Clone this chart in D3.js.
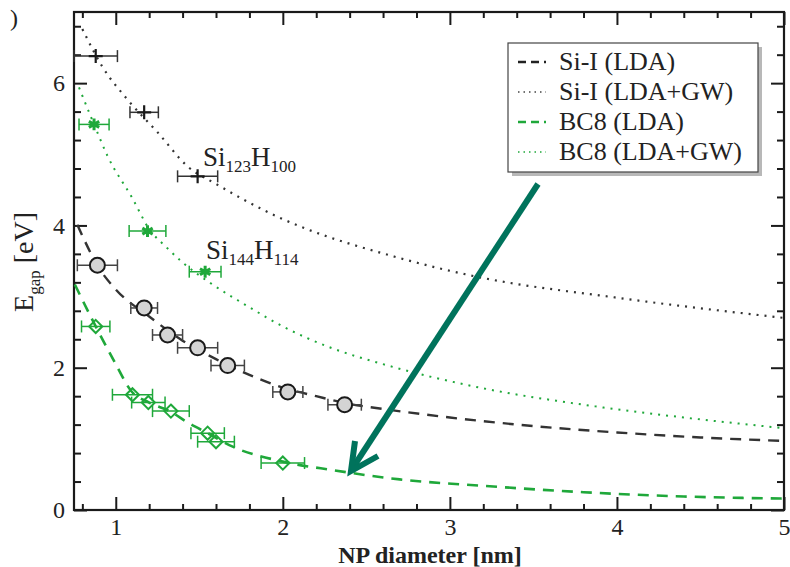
<!DOCTYPE html>
<html>
<head>
<meta charset="utf-8">
<script src="https://cdn.jsdelivr.net/npm/d3@7"></script>
<style>
  body { margin: 0; background: #fff; }
  svg text { font-family: "Liberation Serif", "DejaVu Serif", serif; fill: #222; }
</style>
</head>
<body>
<div id="chart"></div>
<script>
// data
var siLdaPts = [[0.89, 3.44, 0.12], [1.17, 2.84, 0.08], [1.31, 2.46, 0.09], [1.49, 2.28, 0.12],
                [1.67, 2.03, 0.10], [2.03, 1.66, 0.09], [2.37, 1.48, 0.10]];
var siGwPts = [[0.88, 6.38, 0.13], [1.17, 5.59, 0.085], [1.49, 4.69, 0.12]];
var bcLdaPts = [[0.88, 2.58, 0.085], [1.10, 1.62, 0.12], [1.195, 1.51, 0.1], [1.33, 1.39, 0.11],
                [1.55, 1.08, 0.1], [1.60, 0.96, 0.11], [2.0, 0.66, 0.13]];
var bcGwPts = [[0.87, 5.42, 0.09], [1.19, 3.92, 0.11], [1.535, 3.35, 0.095]];

var siLdaFit = [[0.77, 4.01], [0.9, 3.40], [1.0, 3.10], [1.2, 2.72], [1.4, 2.38], [1.6, 2.12],
                [1.8, 1.90], [2.0, 1.72], [2.2, 1.60], [2.4, 1.49], [2.6, 1.42], [3.0, 1.30],
                [3.5, 1.18], [4.0, 1.09], [4.5, 1.02], [5.0, 0.97]];
var siGwFit = [[0.80, 6.76], [0.92, 6.23], [1.07, 5.77], [1.25, 5.31], [1.43, 4.83], [1.61, 4.57],
               [1.76, 4.37], [1.98, 4.11], [2.1, 3.99], [2.67, 3.56], [3.18, 3.27], [3.98, 2.99], [5.0, 2.70]];
var bcLdaFit = [[0.755, 3.17], [0.88, 2.58], [1.0, 2.05], [1.09, 1.68], [1.2, 1.51], [1.33, 1.38],
                [1.43, 1.23], [1.55, 1.08], [1.7, 0.89], [2.0, 0.68], [2.3, 0.56], [2.7, 0.43],
                [3.2, 0.34], [3.8, 0.25], [4.4, 0.19], [5.0, 0.16]];
var bcGwFit = [[0.78, 5.94], [0.87, 5.42], [0.95, 4.98], [1.1, 4.38], [1.2, 3.95], [1.3, 3.70],
               [1.4, 3.48], [1.56, 3.20], [1.8, 2.85], [2.0, 2.58], [2.3, 2.27], [2.6, 2.05],
               [3.2, 1.71], [3.8, 1.48], [4.4, 1.30], [5.0, 1.15]];

var xMajor = [1, 2, 3, 4, 5];
var yMajor = [0, 2, 4, 6];
var legendNames = ["Si-I (LDA)", "Si-I (LDA+GW)", "BC8 (LDA)", "BC8 (LDA+GW)"];

var width = 790, height = 567;
var black = "#1a1a1a", green = "#1fa83a", teal = "#00735c";

var svg = d3.select("#chart").append("svg")
    .attr("width", width)
    .attr("height", height);

// plot frame (note: "top" is a reserved window name, so use other names)
var plotL = 74, plotR = 784, plotT = 12, plotB = 510;

var xScale = d3.scaleLinear().domain([0.75, 5]).range([plotL, plotR]);
var yScale = d3.scaleLinear().domain([0, 7]).range([plotB, plotT]);

var xMinor = d3.range(0.8, 5.01, 0.2).filter(function(v){ return Math.abs(v - Math.round(v)) > 0.01; });
var yMinor = d3.range(0.4, 7, 0.4).filter(function(v){ return Math.abs(v / 2 - Math.round(v / 2)) > 0.01; });

// ticks point inward, mirrored on all four sides
function addAxis(axisFn, scale, values, size, transform, labels){
    var g = svg.append("g")
        .attr("transform", transform)
        .call(axisFn(scale).tickValues(values).tickSize(size).tickPadding(8)
            .tickFormat(labels ? d3.format("d") : ""));
    g.select(".domain").remove();
    g.selectAll(".tick line").attr("stroke", black).attr("stroke-width", 2);
    g.selectAll(".tick text").attr("font-size", 24).attr("fill", "#222")
        .style("font-family", "Liberation Serif, serif");
    return g;
}
addAxis(d3.axisBottom, xScale, xMinor, -6, "translate(0," + plotB + ")", false);
addAxis(d3.axisTop, xScale, xMinor, -6, "translate(0," + plotT + ")", false);
addAxis(d3.axisBottom, xScale, xMajor, -13, "translate(0," + plotB + ")", true);
addAxis(d3.axisTop, xScale, xMajor, -13, "translate(0," + plotT + ")", false);
addAxis(d3.axisLeft, yScale, yMinor, -7, "translate(" + plotL + ",0)", false);
addAxis(d3.axisRight, yScale, yMinor, -7, "translate(" + plotR + ",0)", false);
addAxis(d3.axisLeft, yScale, yMajor, -13, "translate(" + plotL + ",0)", true).selectAll("text").attr("x", -9);
addAxis(d3.axisRight, yScale, yMajor, -13, "translate(" + plotR + ",0)", false);

svg.append("rect")
    .attr("x", plotL).attr("y", plotT)
    .attr("width", plotR - plotL).attr("height", plotB - plotT)
    .attr("fill", "none").attr("stroke", black).attr("stroke-width", 2.2);

// fitted curves
var line = d3.line()
    .x(function(d){ return xScale(d[0]); })
    .y(function(d){ return yScale(d[1]); })
    .curve(d3.curveMonotoneX);

var plot = svg.append("g");
plot.append("path").datum(siGwFit).attr("d", line)
    .attr("fill", "none").attr("stroke", "#333").attr("stroke-width", 2.2).attr("stroke-dasharray", "2,6");
plot.append("path").datum(bcGwFit).attr("d", line)
    .attr("fill", "none").attr("stroke", green).attr("stroke-width", 2).attr("stroke-dasharray", "2,6");
plot.append("path").datum(siLdaFit).attr("d", line)
    .attr("fill", "none").attr("stroke", "#333").attr("stroke-width", 2.4).attr("stroke-dasharray", "11,8");
plot.append("path").datum(bcLdaFit).attr("d", line)
    .attr("fill", "none").attr("stroke", green).attr("stroke-width", 2.6).attr("stroke-dasharray", "11,8");

// error bars
function errBars(data, color){
    var g = plot.append("g").attr("stroke", color).attr("stroke-width", 1.5);
    g.selectAll("line.bar").data(data).enter().append("line")
        .attr("x1", function(d){ return xScale(d[0] - d[2]); })
        .attr("x2", function(d){ return xScale(d[0] + d[2]); })
        .attr("y1", function(d){ return yScale(d[1]); })
        .attr("y2", function(d){ return yScale(d[1]); });
    [-1, 1].forEach(function(s){
        g.selectAll("line.cap" + s).data(data).enter().append("line")
            .attr("x1", function(d){ return xScale(d[0] + s * d[2]); })
            .attr("x2", function(d){ return xScale(d[0] + s * d[2]); })
            .attr("y1", function(d){ return yScale(d[1]) - 6; })
            .attr("y2", function(d){ return yScale(d[1]) + 6; });
    });
}
errBars(siGwPts, "#333");
errBars(bcGwPts, green);
errBars(siLdaPts, "#444");
errBars(bcLdaPts, green);

// markers
plot.selectAll("circle.si").data(siLdaPts).enter().append("circle")
    .attr("cx", function(d){ return xScale(d[0]); })
    .attr("cy", function(d){ return yScale(d[1]); })
    .attr("r", 7.5)
    .attr("fill", "#d4d4d4").attr("stroke", black).attr("stroke-width", 2);

plot.selectAll("path.dia").data(bcLdaPts).enter().append("path")
    .attr("d", d3.symbol().type(d3.symbolDiamond2).size(110))
    .attr("transform", function(d){ return "translate(" + xScale(d[0]) + "," + yScale(d[1]) + ")"; })
    .attr("fill", "none").attr("stroke", green).attr("stroke-width", 2);

// thin plus markers
plot.selectAll("path.plus").data(siGwPts).enter().append("path")
    .attr("d", "M0,-7V7M-7,0H7")
    .attr("transform", function(d){ return "translate(" + xScale(d[0]) + "," + yScale(d[1]) + ")"; })
    .attr("fill", "none").attr("stroke", black).attr("stroke-width", 2.2);

plot.selectAll("path.star").data(bcGwPts).enter().append("path")
    .attr("d", d3.symbol().type(d3.symbolAsterisk).size(100))
    .attr("transform", function(d){ return "translate(" + xScale(d[0]) + "," + yScale(d[1]) + ")"; })
    .attr("fill", "none").attr("stroke", green).attr("stroke-width", 3);

// formula labels
function formula(x, y, a, b){
    var t = svg.append("text").attr("x", x).attr("y", y).attr("font-size", 27).attr("fill", "#333");
    t.append("tspan").text("Si");
    t.append("tspan").attr("dy", 6).attr("font-size", 17).text(a);
    t.append("tspan").attr("dy", -6).text("H");
    t.append("tspan").attr("dy", 6).attr("font-size", 17).text(b);
}
formula(203, 166, "123", "100");
formula(206, 259, "144", "114");

// legend
var lg = svg.append("g");
lg.append("rect").attr("x", 512).attr("y", 47).attr("width", 250).attr("height", 129)
    .attr("fill", "#888").attr("opacity", 0.6);
lg.append("rect").attr("x", 508).attr("y", 43).attr("width", 250).attr("height", 129)
    .attr("fill", "#fff").attr("stroke", "#444").attr("stroke-width", 1.2);
var lgStyles = [["#222", "8,5", 2.4], ["#444", "1.5,4", 1.6], [green, "8,5", 2.6], [green, "1.5,4", 1.6]];
legendNames.forEach(function(name, i){
    var yy = 62 + i * 30;
    lg.append("line").attr("x1", 518).attr("x2", 546).attr("y1", yy).attr("y2", yy)
        .attr("stroke", lgStyles[i][0]).attr("stroke-dasharray", lgStyles[i][1])
        .attr("stroke-width", lgStyles[i][2]);
    lg.append("text").attr("x", 559).attr("y", yy + 8).attr("font-size", 26).text(name);
});

// arrow
var ar = svg.append("g").attr("stroke", teal).attr("stroke-width", 6)
    .attr("stroke-linecap", "butt").attr("fill", "none");
ar.append("line").attr("x1", 538).attr("y1", 184).attr("x2", 352).attr("y2", 469);
ar.append("path").attr("d", "M355,441 L351,471 L378,456").attr("stroke-linejoin", "miter");

// axis titles
svg.append("text").attr("x", 430).attr("y", 563).attr("text-anchor", "middle")
    .attr("font-size", 24).attr("font-weight", "bold").attr("fill", "#333").text("NP diameter [nm]");

var yl = svg.append("text").attr("transform", "translate(33,262) rotate(-90)")
    .attr("text-anchor", "middle").attr("font-size", 28).attr("fill", "#333");
yl.append("tspan").text("E");
yl.append("tspan").attr("dy", 7).attr("font-size", 17).text("gap");
yl.append("tspan").attr("dy", -7).text(" [eV]");

svg.append("text").attr("x", 10).attr("y", 26).attr("font-size", 24).text(")");
</script>
</body>
</html>
